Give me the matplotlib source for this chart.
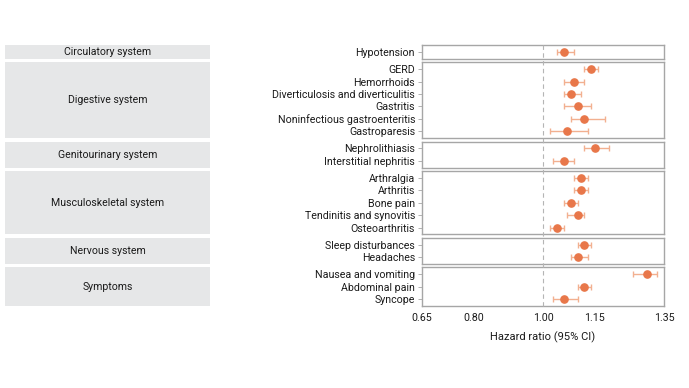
import matplotlib.pyplot as plt
import matplotlib.transforms as mtransforms
from matplotlib.patches import Rectangle

plt.rcParams['font.family'] = ['Roboto', 'DejaVu Sans']
plt.rcParams['font.size'] = 7.7

# groups and outcomes (top to bottom)
groups = ['Circulatory system', 'Digestive system', 'Genitourinary system',
          'Musculoskeletal system', 'Nervous system', 'Symptoms']
outcomes = [
    ['Hypotension'],
    ['GERD', 'Hemorrhoids', 'Diverticulosis and diverticulitis', 'Gastritis',
     'Noninfectious gastroenteritis', 'Gastroparesis'],
    ['Nephrolithiasis', 'Interstitial nephritis'],
    ['Arthralgia', 'Arthritis', 'Bone pain', 'Tendinitis and synovitis', 'Osteoarthritis'],
    ['Sleep disturbances', 'Headaches'],
    ['Nausea and vomiting', 'Abdominal pain', 'Syncope'],
]
hr = [
    [1.06],
    [1.14, 1.09, 1.08, 1.10, 1.12, 1.07],
    [1.15, 1.06],
    [1.11, 1.11, 1.08, 1.10, 1.04],
    [1.12, 1.10],
    [1.30, 1.12, 1.06],
]
ci_low = [
    [1.04],
    [1.12, 1.06, 1.06, 1.06, 1.08, 1.02],
    [1.12, 1.03],
    [1.09, 1.09, 1.06, 1.07, 1.02],
    [1.10, 1.08],
    [1.26, 1.10, 1.03],
]
ci_high = [
    [1.09],
    [1.16, 1.12, 1.11, 1.14, 1.18, 1.13],
    [1.19, 1.09],
    [1.13, 1.13, 1.10, 1.12, 1.06],
    [1.14, 1.13],
    [1.33, 1.14, 1.10],
]
xticks = [0.65, 0.80, 1.00, 1.15, 1.35]

W, H = 689, 388
fig = plt.figure(figsize=(W / 100, H / 100), dpi=100)

# layout in pixels
top = 45.3
unit = 12.4
pad = 0.55
gap = 3.5
ax_left, ax_right = 422, 664
box_left, box_right = 5, 210

dot_color = '#e8774a'
bar_color = '#f2b090'
edge_color = '#a6a6a6'
text_color = '#1a1a1a'

axes = []
y = top
for g, names, vals, lo, hi in zip(groups, outcomes, hr, ci_low, ci_high):
    n = len(names)
    h = (n - 1 + 2 * pad) * unit
    rect = [ax_left / W, 1 - (y + h) / H, (ax_right - ax_left) / W, h / H]
    ax = fig.add_axes(rect)
    pos = list(range(n))
    err = [[v - l for v, l in zip(vals, lo)], [u - v for v, u in zip(vals, hi)]]
    ax.errorbar(vals, pos, xerr=err, fmt='none', ecolor=bar_color,
                elinewidth=1, capsize=2.5, capthick=1, zorder=2)
    ax.plot(vals, pos, 'o', color=dot_color, markersize=5.2, zorder=3)
    ax.set_xlim(0.65, 1.35)
    ax.set_ylim(n - 1 + pad, -pad)
    ax.set_yticks(pos)
    ax.set_yticklabels(names, color=text_color)
    ax.tick_params(axis='y', length=3, width=0.6, color=edge_color, pad=2)
    ax.set_xticks(xticks)
    ax.tick_params(axis='x', length=0, labelbottom=False)
    for s in ax.spines.values():
        s.set_color(edge_color)
        s.set_linewidth(1)

    # grey category box on the left
    fig.patches.append(Rectangle((box_left / W, 1 - (y + h) / H),
                                 (box_right - box_left) / W, h / H,
                                 transform=fig.transFigure,
                                 facecolor='#e6e7e8', edgecolor='none'))
    fig.text((box_left + box_right) / 2 / W, 1 - (y + h / 2) / H, g,
             ha='center', va='center', color=text_color, fontsize=7.6)
    axes.append(ax)
    y += h + gap

bottom = y - gap

# dashed reference line at HR = 1 running through all panels
trans = mtransforms.blended_transform_factory(axes[0].transData, fig.transFigure)
fig.lines.append(plt.Line2D([1.0, 1.0], [1 - top / H, 1 - bottom / H],
                            transform=trans, color='#b5b5b5',
                            linestyle=(0, (4, 3)), linewidth=0.8, zorder=1))

last = axes[-1]
last.tick_params(axis='x', labelbottom=True, pad=5, labelcolor=text_color)
last.set_xticklabels([f'{t:.2f}' for t in xticks])
last.set_xlabel('Hazard ratio (95% CI)', color=text_color, fontsize=8, labelpad=6)

fig.savefig('out.png', dpi=100)
